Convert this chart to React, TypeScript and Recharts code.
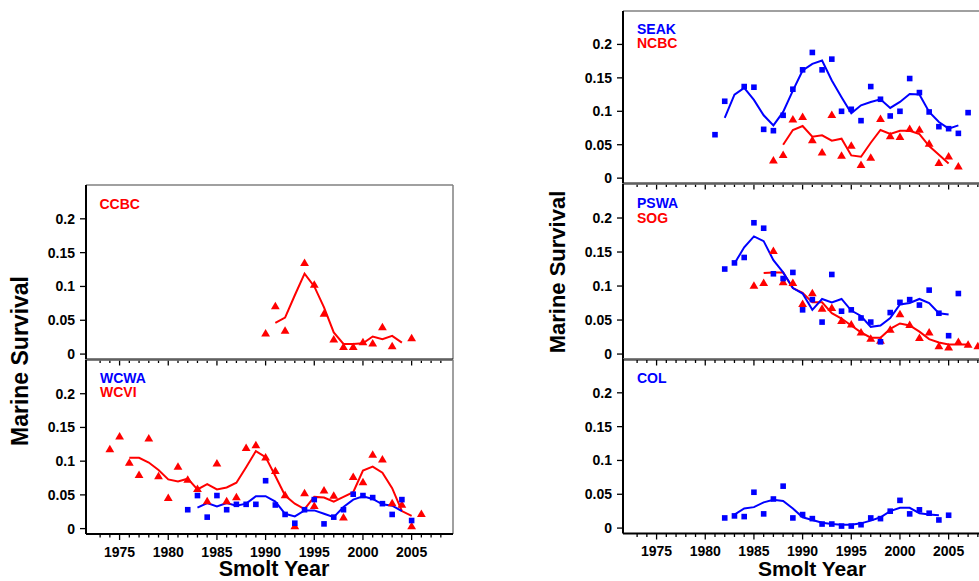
import React from 'react'
import {
    ComposedChart,
    Line,
    Scatter,
    XAxis,
    YAxis,
    ReferenceLine
} from 'recharts'

const FONT = 'Arial, "Liberation Sans", sans-serif'
const BLUE = '#0000ff'
const RED = '#ff0000'

// survival values by smolt year, each list starts at the given year (null = no estimate)
const ccbcObsStart = 1990
const ccbcObs = [0.031, 0.071, 0.035, null, 0.135, 0.103, 0.060, 0.022, 0.011, 0.011, 0.018, 0.016, 0.040, 0.012, null, 0.024]
const ccbcTrendStart = 1991
const ccbcTrend = [0.046, 0.054, 0.087, 0.119, 0.100, 0.069, 0.032, 0.015, 0.015, 0.016, 0.026, 0.022, 0.027, 0.017]

const wcviObsStart = 1974
const wcviObs = [0.118, 0.137, 0.098, 0.080, 0.134, 0.078, 0.046, 0.092, 0.073, 0.059, 0.041, 0.097, 0.041, 0.047, 0.120, 0.124, 0.106, 0.086, 0.050, 0.004, 0.053, 0.034, 0.057, 0.049, 0.017, 0.077, 0.069, 0.110, 0.103, 0.038, 0.036, 0.004, 0.022]
const wcviTrendStart = 1976
const wcviTrend = [0.105, 0.105, 0.098, 0.087, 0.073, 0.070, 0.074, 0.058, 0.066, 0.058, 0.061, 0.068, 0.091, 0.115, 0.106, 0.078, 0.049, 0.037, 0.029, 0.047, 0.046, 0.040, 0.047, 0.054, 0.086, 0.092, 0.083, 0.060, 0.026, 0.019]

const wcwaObsStart = 1982
const wcwaObs = [0.028, 0.049, 0.017, 0.049, 0.028, 0.036, 0.036, 0.036, 0.071, 0.035, 0.021, 0.008, 0.028, 0.043, 0.007, 0.017, 0.028, 0.051, 0.049, 0.046, 0.037, 0.021, 0.043, 0.012]
const wcwaTrendStart = 1983
const wcwaTrend = [0.031, 0.038, 0.033, 0.038, 0.034, 0.037, 0.048, 0.048, 0.040, 0.022, 0.018, 0.027, 0.027, 0.022, 0.017, 0.032, 0.043, 0.048, 0.044, 0.036, 0.034, 0.026]

const seakObsStart = 1981
const seakObs = [0.065, 0.115, null, 0.137, 0.136, 0.073, 0.071, 0.094, 0.133, 0.162, 0.188, 0.162, 0.178, 0.100, 0.103, 0.086, 0.137, 0.118, 0.093, 0.100, 0.149, 0.128, 0.099, 0.077, 0.074, 0.067, 0.098]
const seakTrendStart = 1982
const seakTrend = [0.090, 0.125, 0.135, 0.117, 0.094, 0.079, 0.099, 0.131, 0.161, 0.171, 0.176, 0.146, 0.121, 0.097, 0.109, 0.114, 0.118, 0.105, 0.114, 0.126, 0.125, 0.099, 0.084, 0.074, 0.079]

const ncbcObsStart = 1987
const ncbcObs = [0.027, 0.035, 0.088, 0.092, 0.057, 0.039, 0.095, 0.034, 0.049, 0.020, 0.031, 0.089, 0.063, 0.062, 0.074, 0.073, 0.052, 0.023, 0.033, 0.018]
const ncbcTrendStart = 1988
const ncbcTrend = [0.050, 0.072, 0.078, 0.062, 0.064, 0.056, 0.059, 0.034, 0.032, 0.053, 0.072, 0.066, 0.071, 0.071, 0.066, 0.048, 0.035, 0.022]

const pswaObsStart = 1982
const pswaObs = [0.125, 0.134, 0.142, 0.193, 0.185, 0.118, 0.111, 0.120, 0.065, 0.080, 0.047, 0.117, 0.063, 0.065, 0.053, 0.047, 0.018, 0.061, 0.076, 0.080, 0.072, 0.094, 0.060, 0.027, 0.089]
const pswaTrendStart = 1983
const pswaTrend = [0.133, 0.157, 0.173, 0.166, 0.138, 0.120, 0.097, 0.089, 0.065, 0.081, 0.076, 0.081, 0.064, 0.056, 0.040, 0.042, 0.053, 0.073, 0.075, 0.081, 0.075, 0.060, 0.058]

const sogObsStart = 1985
const sogObs = [0.101, 0.105, 0.152, 0.106, 0.105, 0.074, 0.090, 0.067, 0.068, 0.049, 0.044, 0.032, 0.023, 0.020, 0.036, 0.059, 0.043, 0.024, 0.032, 0.012, 0.010, 0.018, 0.014, 0.012]
const sogTrendStart = 1986
const sogTrend = [0.119, 0.120, 0.120, 0.097, 0.090, 0.076, 0.076, 0.060, 0.052, 0.042, 0.032, 0.024, 0.024, 0.037, 0.045, 0.042, 0.033, 0.022, 0.017, 0.014, 0.014, 0.014]

const colObsStart = 1982
const colObs = [0.015, 0.018, 0.017, 0.053, 0.021, 0.043, 0.062, 0.015, 0.020, 0.014, 0.006, 0.006, 0.003, 0.003, 0.005, 0.015, 0.014, 0.025, 0.041, 0.021, 0.027, 0.022, 0.012, 0.019]
const colTrendStart = 1983
const colTrend = [0.020, 0.029, 0.031, 0.038, 0.042, 0.040, 0.029, 0.016, 0.012, 0.008, 0.006, 0.005, 0.005, 0.007, 0.011, 0.016, 0.025, 0.030, 0.030, 0.022, 0.020, 0.019]

// axis ticks
const yearTicks = Array.from({ length: 36 }, (_, i) => 1973 + i)
const survivalTicks = [0, 0.05, 0.1, 0.15, 0.2]

const X_DOMAIN = [1971.55, 2009.25]
const Y_DOMAIN = [-0.008, 0.25]
const PLOT_W = 367
const PAD = 3

type Pt = { year: number; v: number }

function toPoints(start: number, values: (number | null)[]): Pt[] {
    const out: Pt[] = []
    values.forEach((v, i) => {
        if (v !== null) out.push({ year: start + i, v })
    })
    return out
}

const Square = (p: any) => (
    <rect x={p.cx - 2.8} y={p.cy - 2.8} width={5.6} height={5.6} fill={BLUE} />
)

const Triangle = (p: any) => (
    <polygon
        points={`${p.cx},${p.cy - 4.2} ${p.cx + 4.4},${p.cy + 3.3} ${p.cx - 4.4},${p.cy + 3.3}`}
        fill={RED}
    />
)

function XTick(props: any) {
    const { x, y, payload, showLabel } = props
    const major = payload.value % 5 === 0
    return (
        <g>
            <line x1={x} x2={x} y1={y} y2={y + (major ? 6 : 3.5)} stroke="#000" strokeWidth={1.3} />
            {showLabel && major && (
                <text x={x} y={y + 22.5} textAnchor="middle" fontSize={14} fontWeight="bold" fontFamily={FONT} fill="#000">
                    {payload.value}
                </text>
            )}
        </g>
    )
}

function fmtY(v: number) {
    return v === 0 ? '0' : String(v)
}

type Series = { obs: Pt[]; trend: Pt[]; color: 'blue' | 'red' }

type PanelProps = {
    left: number
    top: number
    plotH: number
    yAxisW: number
    showLabels: boolean
    series: Series[]
}

function Panel({ left, top, plotH, yAxisW, showLabels, series }: PanelProps) {
    const xh = showLabels ? 40 : 10
    return (
        <div style={{ position: 'absolute', left, top: top - PAD }}>
            <ComposedChart
                width={yAxisW + PLOT_W + PAD}
                height={PAD + plotH + xh}
                margin={{ top: PAD, right: PAD, bottom: 0, left: 0 }}
            >
                <XAxis
                    type="number"
                    dataKey="year"
                    domain={X_DOMAIN}
                    ticks={yearTicks}
                    interval={0}
                    allowDataOverflow
                    height={xh}
                    axisLine={{ stroke: '#000', strokeWidth: 2 }}
                    tickLine={false}
                    tickSize={0}
                    tickMargin={0}
                    tick={(p: any) => <XTick {...p} showLabel={showLabels} />}
                />
                <YAxis
                    type="number"
                    dataKey="v"
                    domain={Y_DOMAIN}
                    ticks={survivalTicks}
                    interval={0}
                    allowDataOverflow
                    width={yAxisW}
                    axisLine={{ stroke: '#000', strokeWidth: 2 }}
                    tickLine={{ stroke: '#000', strokeWidth: 1.3 }}
                    tickSize={6}
                    tickMargin={5}
                    tick={{ fill: '#000', fontSize: 14, fontWeight: 'bold', fontFamily: FONT }}
                    tickFormatter={fmtY}
                />
                <ReferenceLine y={Y_DOMAIN[1]} stroke="#808080" strokeWidth={1.5} />
                <ReferenceLine x={X_DOMAIN[1]} stroke="#808080" strokeWidth={1.5} />
                {series.map((s, i) => [
                    <Scatter
                        key={`s${i}`}
                        data={s.obs}
                        dataKey="v"
                        shape={s.color === 'blue' ? Square : Triangle}
                        isAnimationActive={false}
                    />,
                    <Line
                        key={`l${i}`}
                        data={s.trend}
                        dataKey="v"
                        type="linear"
                        stroke={s.color === 'blue' ? BLUE : RED}
                        strokeWidth={2}
                        dot={false}
                        isAnimationActive={false}
                    />
                ])}
            </ComposedChart>
        </div>
    )
}

const ccbc: Series = { obs: toPoints(ccbcObsStart, ccbcObs), trend: toPoints(ccbcTrendStart, ccbcTrend), color: 'red' }
const wcvi: Series = { obs: toPoints(wcviObsStart, wcviObs), trend: toPoints(wcviTrendStart, wcviTrend), color: 'red' }
const wcwa: Series = { obs: toPoints(wcwaObsStart, wcwaObs), trend: toPoints(wcwaTrendStart, wcwaTrend), color: 'blue' }
const seak: Series = { obs: toPoints(seakObsStart, seakObs), trend: toPoints(seakTrendStart, seakTrend), color: 'blue' }
const ncbc: Series = { obs: toPoints(ncbcObsStart, ncbcObs), trend: toPoints(ncbcTrendStart, ncbcTrend), color: 'red' }
const pswa: Series = { obs: toPoints(pswaObsStart, pswaObs), trend: toPoints(pswaTrendStart, pswaTrend), color: 'blue' }
const sog: Series = { obs: toPoints(sogObsStart, sogObs), trend: toPoints(sogTrendStart, sogTrend), color: 'red' }
const col: Series = { obs: toPoints(colObsStart, colObs), trend: toPoints(colTrendStart, colTrend), color: 'blue' }

const labelStyle = { fontFamily: FONT, fontWeight: 'bold' as const, fontSize: 14 }
const titleStyle = { fontFamily: FONT, fontWeight: 'bold' as const, fontSize: 22, fill: '#000' }
const leftTitleStyle = { ...titleStyle, fontSize: 23 }
const xTitleStyle = { ...titleStyle, fontSize: 21 }
const leftXTitleStyle = { ...titleStyle, fontSize: 21.5 }

export default function App() {
    return (
        <div style={{ position: 'fixed', left: 0, top: 0, width: 979, height: 581, overflow: 'hidden', background: '#fff' }}>
            {/* left column */}
            <Panel left={0} top={185} plotH={174.5} yAxisW={86} showLabels={false} series={[ccbc]} />
            <Panel left={0} top={359.5} plotH={174} yAxisW={86} showLabels series={[wcvi, wcwa]} />
            {/* right column, runs past the right edge */}
            <Panel left={540} top={11} plotH={172.5} yAxisW={83} showLabels={false} series={[ncbc, seak]} />
            <Panel left={540} top={183.5} plotH={175.5} yAxisW={83} showLabels={false} series={[sog, pswa]} />
            <Panel left={540} top={359} plotH={174.5} yAxisW={83} showLabels series={[col]} />

            <svg width={979} height={581} style={{ position: 'absolute', left: 0, top: 0, pointerEvents: 'none' }}>
                <text x={99.5} y={208.5} fill={RED} {...labelStyle}>CCBC</text>
                <text x={100} y={382.7} fill={BLUE} {...labelStyle}>WCWA</text>
                <text x={100} y={397} fill={RED} {...labelStyle}>WCVI</text>
                <text x={637} y={33.5} fill={BLUE} {...labelStyle}>SEAK</text>
                <text x={637} y={48.2} fill={RED} {...labelStyle}>NCBC</text>
                <text x={637} y={208.3} fill={BLUE} {...labelStyle}>PSWA</text>
                <text x={637} y={222.5} fill={RED} {...labelStyle}>SOG</text>
                <text x={637} y={383.3} fill={BLUE} {...labelStyle}>COL</text>

                <text x={28} y={361} transform="rotate(-90 28 361)" textAnchor="middle" {...leftTitleStyle}>Marine Survival</text>
                <text x={565} y={272} transform="rotate(-90 565 272)" textAnchor="middle" {...titleStyle}>Marine Survival</text>
                <text x={274} y={576.2} textAnchor="middle" {...leftXTitleStyle}>Smolt Year</text>
                <text x={812} y={576.4} textAnchor="middle" {...xTitleStyle}>Smolt Year</text>
            </svg>
        </div>
    )
}
